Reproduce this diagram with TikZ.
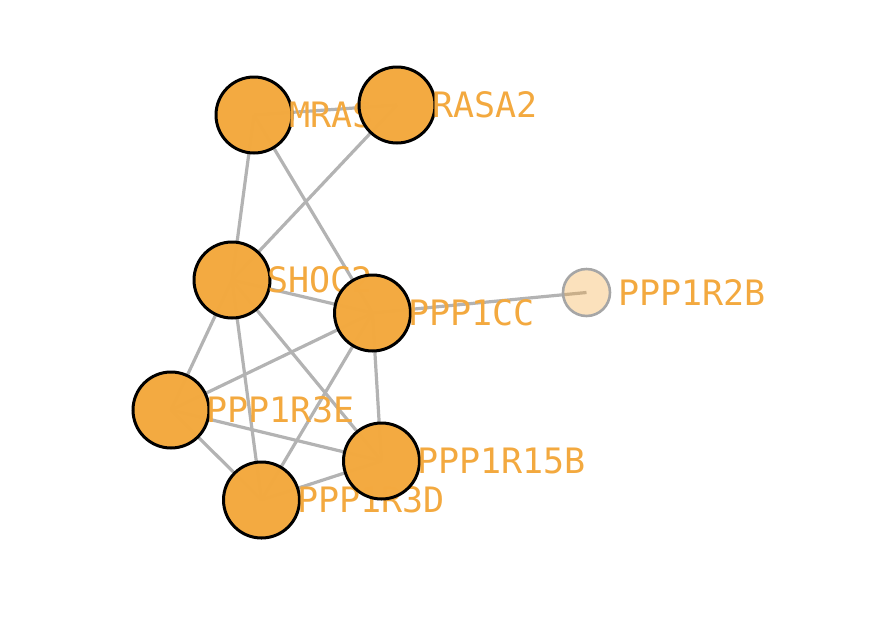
\documentclass[tikz,border=0pt]{standalone}
\usepackage{fontspec}
\newfontfamily\genefont{DejaVu Sans Mono}
\usetikzlibrary{backgrounds}
\definecolor{geneorange}{HTML}{F3A93F}
\definecolor{edgegray}{HTML}{B3B3B3}
\definecolor{fadedgray}{HTML}{A6A6A6}
\begin{document}
\begin{tikzpicture}[x=1pt, y=-1pt,
        gene/.style={circle, draw=black, line width=3pt, fill=geneorange, fill opacity=0.99, minimum size=76pt, inner sep=0pt},
        faded/.style={circle, draw=fadedgray, line width=2.6pt, fill=geneorange, fill opacity=0.35, minimum size=47pt, inner sep=0pt},
        genelabel/.style={text=geneorange, opacity=1, text opacity=1, inner sep=0pt, font=\genefont\fontsize{35}{35}\selectfont},
        link/.style={draw=edgegray, line width=3.2pt}]
        \useasboundingbox (0,0) rectangle (894,630);
        \node[gene, label={[genelabel, label distance=-4pt]right:MRAS}] (mras) at (254,115) {};
        \node[gene, label={[genelabel, label distance=-4pt]right:SHOC2}] (shoc) at (232,280) {};
        \node[gene, label={[genelabel, label distance=-4pt]right:PPP1R3E}] (rthreee) at (171,410) {};
        \node[gene, label={[genelabel, label distance=-4pt]right:PPP1R3D}] (rthreed) at (261.5,500) {};
        \node[gene, label={[genelabel, label distance=-4pt]right:RASA2}] (rasa) at (397,105) {};
        \node[gene, label={[genelabel, label distance=-4pt]right:PPP1CC}] (pcc) at (372.5,313) {};
        \node[gene, label={[genelabel, label distance=-4pt]right:PPP1R15B}] (rfifteen) at (381.5,461) {};
        \node[faded, label={[genelabel, label distance=7pt]right:PPP1R2B}] (rtwob) at (586.5,292.5) {};
        \begin{scope}[on background layer]
            \draw[link] (mras.center) -- (rasa.center);
            \draw[link] (mras.center) -- (shoc.center);
            \draw[link] (mras.center) -- (pcc.center);
            \draw[link] (rasa.center) -- (shoc.center);
            \draw[link] (shoc.center) -- (pcc.center);
            \draw[link] (shoc.center) -- (rthreee.center);
            \draw[link] (shoc.center) -- (rthreed.center);
            \draw[link] (shoc.center) -- (rfifteen.center);
            \draw[link] (pcc.center) -- (rtwob.center);
            \draw[link] (pcc.center) -- (rthreee.center);
            \draw[link] (pcc.center) -- (rthreed.center);
            \draw[link] (pcc.center) -- (rfifteen.center);
            \draw[link] (rthreee.center) -- (rfifteen.center);
            \draw[link] (rthreee.center) -- (rthreed.center);
            \draw[link] (rthreed.center) -- (rfifteen.center);
        \end{scope}
\end{tikzpicture}
\end{document}
